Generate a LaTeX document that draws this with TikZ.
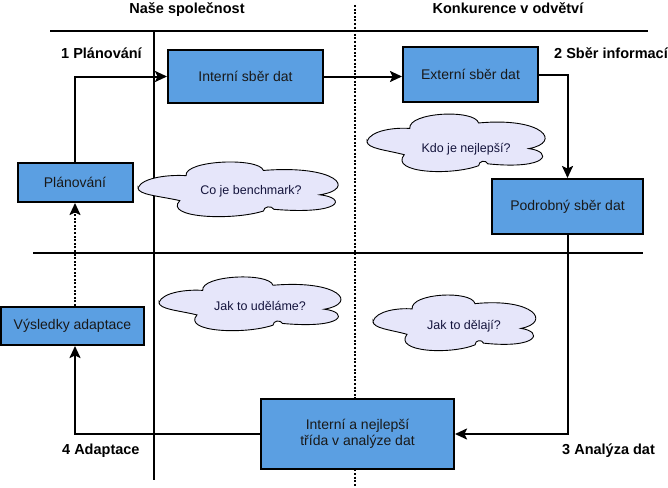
\documentclass[tikz,border=0pt]{standalone}
\usepackage{fontspec}
\setmainfont{Liberation Sans}
\usetikzlibrary{arrows.meta}
\definecolor{boxblue}{RGB}{91,159,226}
\definecolor{cloudfill}{RGB}{230,230,250}
\newcommand{\mycloud}[4]{%
  \draw[cloudline, shift={(#1,#2)}, xscale=#3, yscale=#4]
    (0,0.48) .. controls (0.02,0.30) and (0.15,0.25) .. (0.23,0.27)
    .. controls (0.22,0.00) and (0.58,-0.05) .. (0.60,0.18)
    .. controls (0.95,0.08) and (1.05,0.50) .. (0.87,0.60)
    .. controls (1.00,0.65) and (0.98,0.95) .. (0.65,0.85)
    .. controls (0.64,0.78) and (0.60,0.80) .. (0.60,0.88)
    .. controls (0.45,1.05) and (0.12,1.00) .. (0.20,0.70)
    .. controls (0.10,0.62) and (0.00,0.60) .. cycle;}
\begin{document}
\begin{tikzpicture}[x=1pt,y=-1pt,
  procbox/.style={draw=black, line width=2pt, fill=boxblue, inner sep=0pt,
    font=\fontsize{14}{16.5}\selectfont, text=black!90, align=center},
  cloudline/.style={draw=black, line width=0.9pt, fill=cloudfill},
  cloudtext/.style={font=\fontsize{12.5}{15}\selectfont, text={rgb,255:red,20;green,20;blue,60}},
  lbl/.style={font=\bfseries\fontsize{14.5}{17}\selectfont, anchor=base, inner sep=0pt},
  frame/.style={line width=2pt},
  conn/.style={line width=2pt, -{Stealth[length=12pt,width=11pt,inset=2.5pt]}},
  dotconn/.style={conn, dash pattern=on 2pt off 1.6pt},
  sep/.style={line width=1.7pt, dash pattern=on 2pt off 1.6pt}]
\useasboundingbox (0,0) rectangle (668,487);

% frame lines
\draw[frame] (50,31) -- (648,31);
\draw[frame] (33,253) -- (643,253);
\draw[frame] (154,31) -- (154,480);
\draw[sep] (355,5) -- (355,487);

% headings and step labels
\node[lbl] (h1) at (187,13.5) {Naše společnost};
\node[lbl] (h2) at (508,13.5) {Konkurence v odvětví};
\node[lbl, anchor=base west] (s1) at (61,58.5) {1 Plánování};
\node[lbl, anchor=base west] (s2) at (554,58) {2 Sběr informací};
\node[lbl, anchor=base west] (s3) at (562,454) {3 Analýza dat};
\node[lbl, anchor=base west] (s4) at (62,454) {4 Adaptace};

% clouds
\mycloud{138}{160}{209}{58}
\node[cloudtext] (c1) at (251,191) {Co je benchmark?};
\mycloud{367}{112}{186}{61}
\node[cloudtext] (c2) at (466,149) {Kdo je nejlepší?};
\mycloud{159}{275}{190}{57}
\node[cloudtext] (c3) at (260,305.5) {Jak to uděláme?};
\mycloud{373}{293}{170}{59}
\node[cloudtext] (c4) at (464,326) {Jak to dělají?};

% boxes
\node[procbox, minimum width=115pt, minimum height=39pt] (plan) at (75,182.5) {Plánování};
\node[procbox, minimum width=155pt, minimum height=53pt] (intsber) at (245.5,76.5) {Interní sběr dat};
\node[procbox, minimum width=135pt, minimum height=55pt] (extsber) at (470.5,74.5) {Externí sběr dat};
\node[procbox, minimum width=151pt, minimum height=55pt] (podrob) at (567.5,206.5) {Podrobný sběr dat};
\node[procbox, minimum width=143pt, minimum height=38pt] (vysl) at (72.5,326) {Výsledky adaptace};
\node[procbox, minimum width=193pt, minimum height=70pt] (anal) at (357.5,434) {Interní a nejlepší\\třída v analýze dat};

% connectors
\draw[conn] (plan.north) |- (intsber.west);
\draw[conn] (intsber.east) -- (intsber.east -| extsber.west);
\draw[conn] (extsber.east) -| (podrob.north);
\draw[conn] (podrob.south) |- (anal.east);
\draw[conn] (anal.west) -| (vysl.south -| plan.south);
\draw[dotconn] (vysl.north -| plan.south) -- (plan.south);
\end{tikzpicture}
\end{document}
